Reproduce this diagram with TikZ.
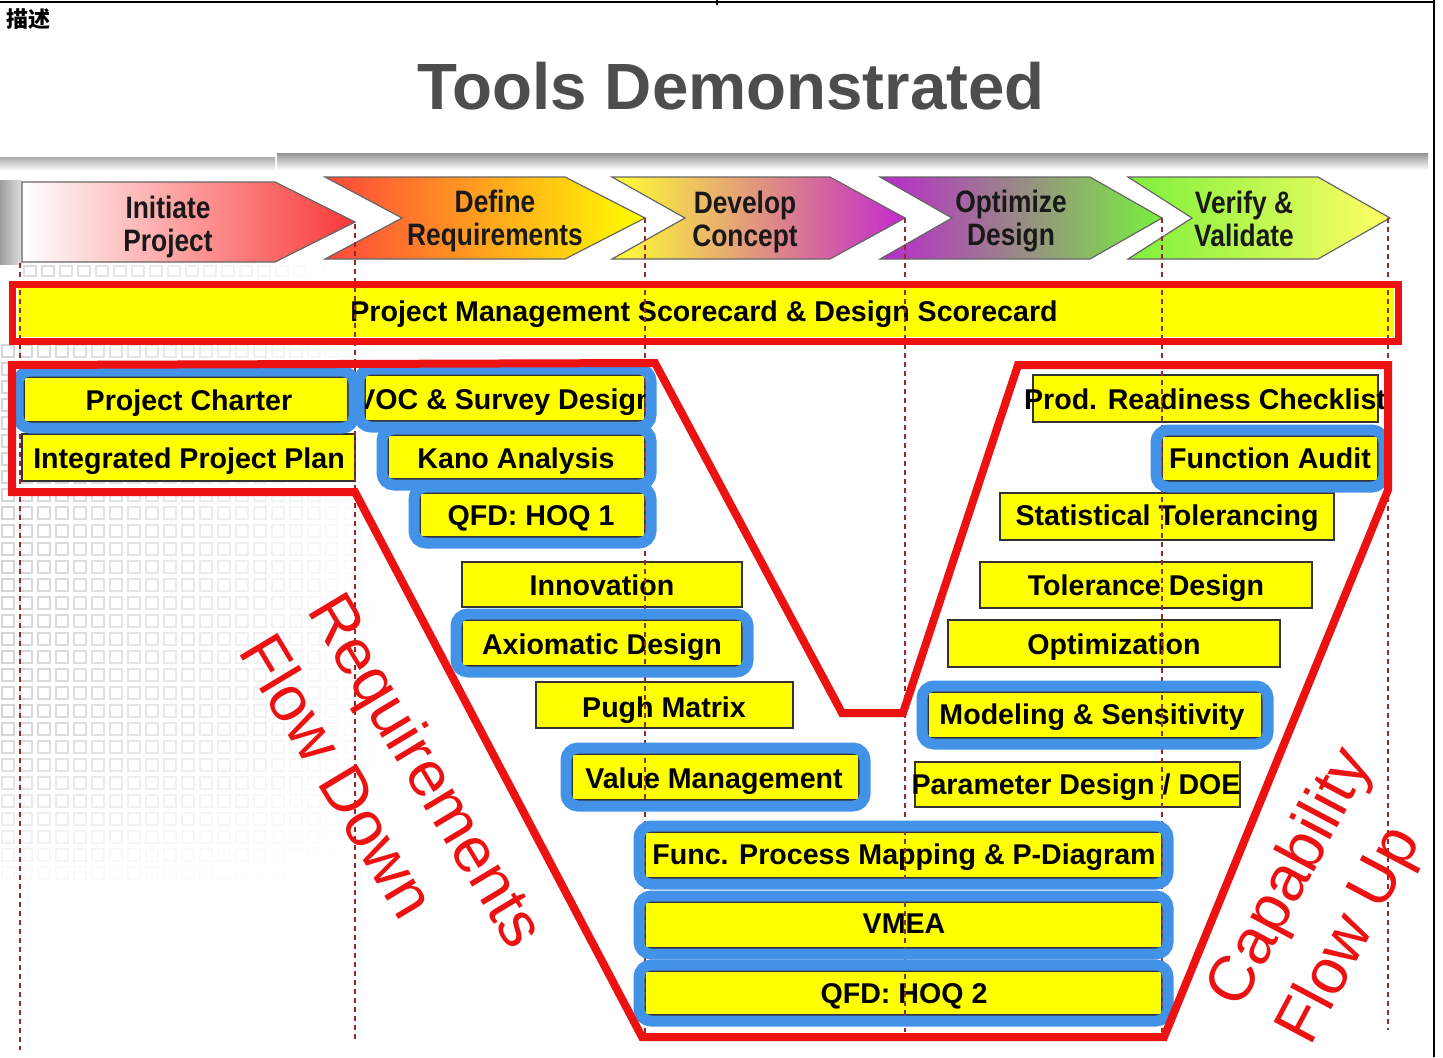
\documentclass[tikz,border=0pt]{standalone}
\usepackage{fontspec}
\setmainfont{Liberation Sans}
\newfontfamily\hdrfont{Liberation Sans}[FakeStretch=0.85]
\newfontfamily\cjkfont{Noto Sans CJK SC}
\definecolor{vred}{RGB}{236,18,18}
\definecolor{vblue}{RGB}{66,146,232}
\definecolor{vyel}{RGB}{255,255,0}
\definecolor{dashc}{RGB}{150,40,40}
\definecolor{titleg}{RGB}{77,77,77}
\tikzset{
  ybox/.style={fill=vyel, draw=black!80, line width=0.6pt},
  boxtxt/.style={font=\fontsize{14.3}{17}\selectfont\bfseries, anchor=base, inner sep=0pt},
  bframe/.style={draw=vblue, line width=5.5pt, rounded corners=6pt},
  hdr/.style={font=\hdrfont\fontsize{15.5}{16.5}\selectfont\bfseries, align=center, inner sep=0pt, text=black!90},
  arrowline/.style={draw=black!60, line width=0.6pt},
  phase/.style={draw=dashc, line width=0.6pt, dash pattern=on 2.5pt off 2pt},
  vline/.style={draw=vred, line width=4pt, line join=miter},
  rottxt/.style={font=\fontsize{32}{40}\selectfont, text=vred, align=left, inner sep=0pt}
}
\newcommand\yb[8]{\draw[ybox] (#2,#3) rectangle (#4,#5); \node[boxtxt] (#1) at (#6,#7) {#8};}
\newcommand\bfr[4]{\draw[bframe] (#1-6,#2-6) rectangle (#3+6,#4+6);}
\begin{document}
\begin{tikzpicture}[x=0.5pt,y=-0.5pt]
\useasboundingbox (0,0) rectangle (1443,1057);
\fill[white] (0,0) rectangle (1443,1057);
% page frame lines
\draw[black, line width=0.7pt] (0,2) -- (1434,2);
\draw[black, line width=0.7pt] (1434,0) -- (1434,1057);
\draw[black, line width=0.7pt] (717,0) -- (717,5);
% heading
\node[font=\cjkfont\fontsize{11}{12}\selectfont\bfseries, anchor=base west, inner sep=0pt] (desc) at (6,27) {描述};
\node[font=\fontsize{32.7}{38}\selectfont\bfseries, text=titleg, anchor=base, inner sep=0pt] (title) at (731,109) {Tools Demonstrated};
% grey bars
\shade[top color=gray!85, bottom color=white] (277,153) rectangle (1428,170);
\shade[top color=gray!65, bottom color=white] (0,157) rectangle (275,171);
\shade[left color=gray!75, right color=gray!25] (0,180) rectangle (22,264);
% background grid
\foreach \i in {0,...,21}{
  \foreach \j in {0,...,31}{
    \pgfmathsetmacro\gx{2+18*\i}
    \pgfmathsetmacro\gy{345+18*\j}
    \pgfmathsetmacro\op{max(0,0.32*(1-\gx/380))*min(1,max(0,(890-\gy)/170))}
    \draw[gray, opacity=\op, line width=0.6pt] (\gx,\gy) rectangle ++(12,12);
  }
}
\foreach \i in {0,...,16}{
  \pgfmathsetmacro\gx{24+18*\i}
  \pgfmathsetmacro\op{max(0,0.3*(1-\gx/330))}
  \draw[gray, opacity=\op, line width=0.6pt] (\gx,266) rectangle ++(12,10);
}
% phase arrows
\path[arrowline, left color=white, middle color={rgb,255:red,255;green,185;blue,185}, right color={rgb,255:red,250;green,55;blue,55}]
  (22,182) -- (275,182) -- (355,222) -- (275,262) -- (22,262) -- cycle;
\path[arrowline, left color={rgb,255:red,255;green,70;blue,60}, middle color={rgb,255:red,255;green,170;blue,40}, right color={rgb,255:red,255;green,255;blue,0}]
  (325,177) -- (565,177) -- (645,218) -- (565,259) -- (325,259) -- (402,218) -- cycle;
\path[arrowline, left color={rgb,255:red,255;green,255;blue,50}, middle color={rgb,255:red,228;green,160;blue,150}, right color={rgb,255:red,195;green,40;blue,205}]
  (612,177) -- (830,177) -- (905,218) -- (830,259) -- (612,259) -- (685,218) -- cycle;
\path[arrowline, left color={rgb,255:red,185;green,40;blue,205}, middle color={rgb,255:red,170;green,165;blue,140}, right color={rgb,255:red,120;green,240;blue,60}]
  (880,177) -- (1090,177) -- (1162,218) -- (1090,259) -- (880,259) -- (952,218) -- cycle;
\path[arrowline, left color={rgb,255:red,125;green,240;blue,60}, right color={rgb,255:red,255;green,255;blue,100}]
  (1128,177) -- (1318,177) -- (1390,218) -- (1318,259) -- (1128,259) -- (1192,218) -- cycle;
\node[hdr] (h1) at (168,227) {Initiate\\Project};
\node[hdr] (h2) at (495,221) {Define\\Requirements};
\node[hdr] (h3) at (745,222) {Develop\\Concept};
\node[hdr] (h4) at (1011,221) {Optimize\\Design};
\node[hdr] (h5) at (1244,219) {Verify \&\\Validate};
% scorecard
\fill[vyel] (18,288) rectangle (1394,337);
\node[boxtxt] (score) at (704,321) {Project Management Scorecard \& Design Scorecard};
% tool boxes
\yb{pc}{24}{377}{348}{422}{189}{410}{Project Charter}
\yb{ipp}{22}{434}{355}{481}{189}{468}{Integrated Project Plan}
\yb{voc}{365}{375}{645}{421}{505}{409}{VOC \& Survey Design}
\yb{kano}{388}{435}{645}{479}{516}{468}{Kano Analysis}
\yb{hoqa}{420}{493}{645}{537}{531}{525}{QFD: HOQ 1}
\yb{inno}{462}{562}{742}{607}{602}{595}{Innovation}
\yb{axio}{462}{620}{742}{666}{602}{654}{Axiomatic Design}
\yb{pugh}{536}{682}{793}{728}{664}{717}{Pugh Matrix}
\yb{vm}{572}{754}{859}{800}{714}{788}{Value Management}
\yb{fpm}{645}{832}{1162}{878}{904}{864}{Func. Process Mapping \& P-Diagram}
\yb{vmea}{645}{902}{1162}{948}{904}{933}{VMEA}
\yb{hoqb}{645}{971}{1162}{1015}{904}{1003}{QFD: HOQ 2}
\yb{prc}{1033}{375}{1378}{422}{1205}{409}{Prod. Readiness Checklist}
\yb{fa}{1162}{436}{1378}{481}{1270}{468}{Function Audit}
\yb{st}{1000}{493}{1334}{540}{1167}{525}{Statistical Tolerancing}
\yb{td}{980}{562}{1312}{608}{1146}{595}{Tolerance Design}
\yb{opt}{948}{620}{1280}{667}{1114}{654}{Optimization}
\yb{mod}{928}{692}{1262}{738}{1092}{724}{Modeling \& Sensitivity}
\yb{pd}{915}{762}{1240}{807}{1076}{794}{Parameter Design / DOE}
% phase dividers
\draw[phase] (20,263) -- (20,1050);
\draw[phase] (355,224) -- (355,1040);
\draw[phase] (645,218) -- (645,1037);
\draw[phase] (905,218) -- (905,1032);
\draw[phase] (1162,218) -- (1162,1032);
\draw[phase] (1388,218) -- (1388,1030);
% blue frames
\bfr{24}{377}{348}{422}
\bfr{365}{375}{645}{421}
\bfr{388}{435}{645}{479}
\bfr{420}{493}{645}{537}
\bfr{462}{620}{742}{666}
\bfr{572}{754}{859}{800}
\bfr{645}{832}{1162}{878}
\bfr{645}{902}{1162}{948}
\bfr{645}{971}{1162}{1015}
\bfr{1162}{436}{1378}{481}
\bfr{928}{692}{1262}{738}
% red outlines
\draw[vline, line width=3.5pt] (12,284) rectangle (1398,341);
\draw[vline] (12,365) -- (655,363) -- (842,713) -- (903,713) -- (1018,365) -- (1388,365) -- (1388,490) -- (1164,1037) -- (642,1037) -- (355,492) -- (12,492) -- cycle;
% rotated labels
\node[rottxt, rotate=-59] (rfd) at (394,790) {Requirements\\Flow Down};
\node[rottxt, rotate=62] (cfu) at (1327,897) {Capability\\Flow Up};
\end{tikzpicture}
\end{document}
